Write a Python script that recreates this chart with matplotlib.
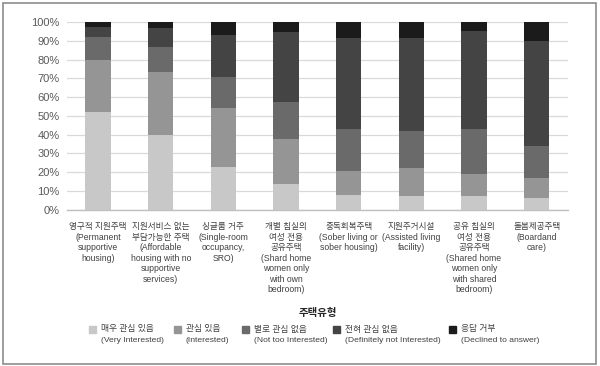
import numpy as np
import matplotlib
matplotlib.use("Agg")
import matplotlib.pyplot as plt
from matplotlib.patches import Rectangle

# Latin glyphs from an Arial-like face, Hangul falls through to Noto CJK
FONTS = ["Liberation Sans", "Noto Sans CJK KR"]
plt.rcParams["font.family"] = FONTS

# ── data (percent of respondents) ─────────────────────────────────────────────
cats_ko = ["영구적 지원주택", "지원서비스 없는\n부담가능한 주택", "싱글룸 거주",
           "개별 침실의\n여성 전용\n공유주택", "중독회복주택", "지원주거시설",
           "공유 침실의\n여성 전용\n공유주택", "돌봄제공주택"]
cats_en = ["(Permanent\nsupportive\nhousing)",
           "(Affordable\nhousing with no\nsupportive\nservices)",
           "(Single-room\noccupancy,\nSRO)",
           "(Shard home\nwomen only\nwith own\nbedroom)",
           "(Sober living or\nsober housing)",
           "(Assisted living\nfacility)",
           "(Shared home\nwomen only\nwith shared\nbedroom)",
           "(Boardand\ncare)"]

very_interested = [52.0, 40.0, 22.6, 13.5, 7.7, 7.1, 7.1, 5.9]
interested      = [28.0, 33.3, 31.8, 24.3, 13.0, 15.2, 12.0, 11.0]
not_too         = [12.0, 13.3, 16.4, 19.4, 22.3, 19.4, 23.9, 17.0]
definitely_not  = [5.5, 10.4, 22.6, 37.8, 48.4, 50.1, 52.5, 56.3]
declined        = [2.5, 3.0, 6.6, 5.0, 8.6, 8.2, 4.5, 9.8]

series_ko = ["매우 관심 있음", "관심 있음", "별로 관심 없음", "전혀 관심 없음", "응답 거부"]
series_en = ["(Very Interested)", "(Interested)", "(Not too Interested)",
             "(Definitely not Interested)", "(Declined to answer)"]
legend_title = "주택유형"

colors = ["#c8c8c8", "#959595", "#6a6a6a", "#444444", "#1b1b1b"]

# ── plot ──────────────────────────────────────────────────────────────────────
W, H = 600, 366
fig = plt.figure(figsize=(6.0, 3.66), dpi=100)
ax = fig.add_axes([66.7 / W, 1 - 209.5 / H, (568 - 66.7) / W, (209.5 - 22.3) / H])

x = np.arange(len(cats_ko))
bottom = np.zeros(len(x))
for vals, c in zip([very_interested, interested, not_too, definitely_not, declined], colors):
    ax.bar(x, vals, width=0.4, bottom=bottom, color=c, edgecolor="none", zorder=3)
    bottom += np.array(vals)

ax.set_xlim(-0.5, len(x) - 0.5)
ax.set_ylim(0, 100)
ax.set_yticks(np.arange(0, 101, 10))
ax.set_yticklabels([f"{v}%" for v in range(0, 101, 10)])
ax.grid(axis="y", color="#d9d9d9", lw=0.9, zorder=0)
for s in ["top", "right", "left"]:
    ax.spines[s].set_visible(False)
ax.spines["bottom"].set_color("#bfbfbf")
ax.spines["bottom"].set_linewidth(1.0)
ax.tick_params(axis="y", length=0, pad=5, labelsize=8, labelcolor="#595959")
ax.tick_params(axis="x", length=0, pad=9)
ax.set_xticks(x)
ax.set_xticklabels([f"{k}\n{e}" for k, e in zip(cats_ko, cats_en)],
                   fontsize=6.2, color="#404040", linespacing=1.22, va="top")

# ── legend (drawn by hand: marker beside the Korean line, English underneath) ─
fig.text(318 / W, 1 - 313 / H, legend_title, ha="center", va="center",
         fontsize=7.5, fontweight="bold", color="#262626")
mark_x = [92, 177, 245, 336, 452]
for mx, c, ko, en in zip(mark_x, colors, series_ko, series_en):
    fig.patches.append(Rectangle(((mx - 3.5) / W, 1 - 332.5 / H), 7 / W, 7 / H,
                                 transform=fig.transFigure, color=c, figure=fig))
    fig.text((mx + 9) / W, 1 - 329 / H, ko, ha="left", va="center",
             fontsize=6.3, color="#404040")
    fig.text((mx + 9) / W, 1 - 341 / H, en, ha="left", va="center",
             fontsize=6.1, color="#404040")

# outer frame
fig.patches.append(Rectangle((2.5 / W, 1 - 363.5 / H), 593.5 / W, 361 / H,
                             transform=fig.transFigure, fill=False,
                             edgecolor="#8c8c8c", lw=1.2, figure=fig))

fig.savefig("out.png", dpi=100)
